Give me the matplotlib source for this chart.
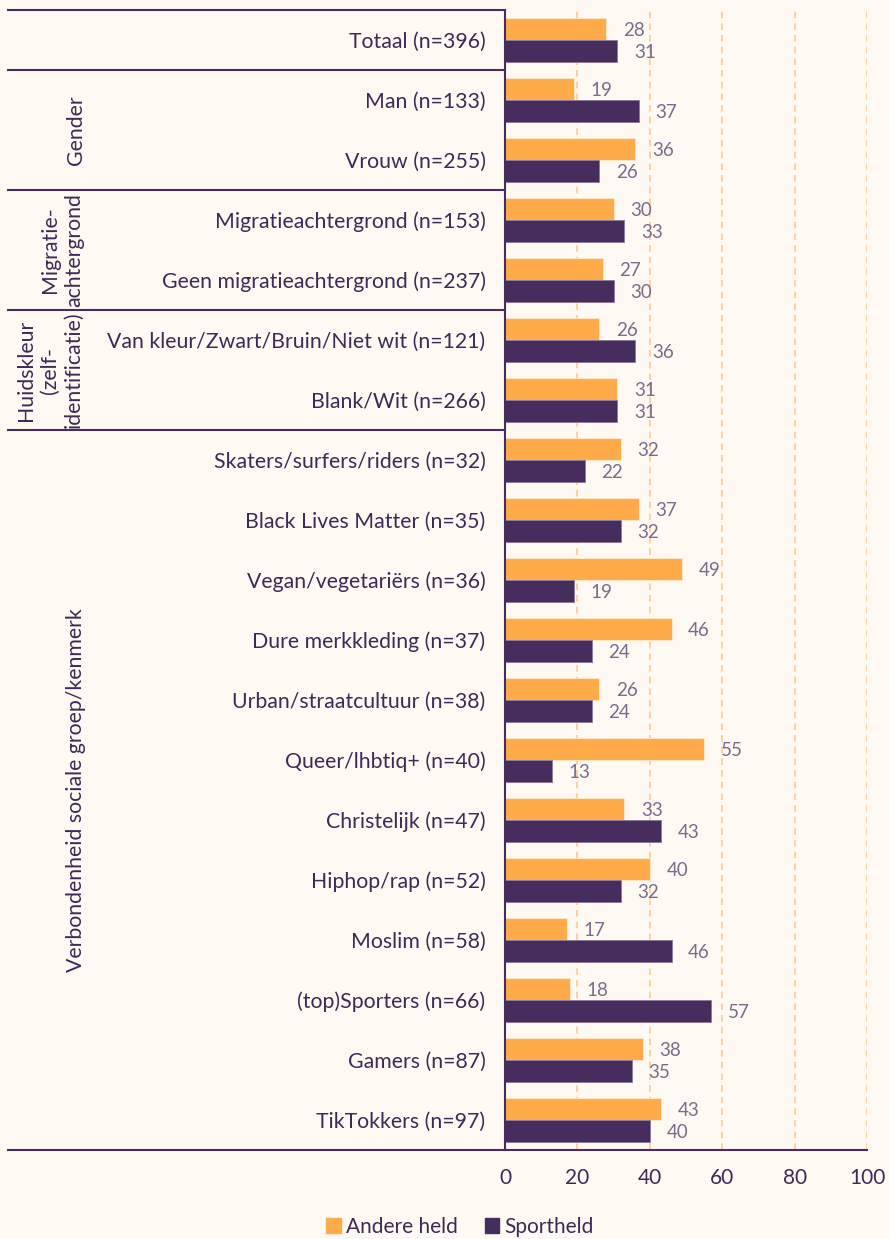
import numpy as np
import matplotlib
matplotlib.use("Agg")
import matplotlib.pyplot as plt
from matplotlib.transforms import blended_transform_factory
from matplotlib.lines import Line2D
from matplotlib.patches import Patch

plt.rcParams["font.family"] = ["Lato", "DejaVu Sans"]

categories = [
    "Totaal (n=396)",
    "Man (n=133)", "Vrouw (n=255)",
    "Migratieachtergrond (n=153)", "Geen migratieachtergrond (n=237)",
    "Van kleur/Zwart/Bruin/Niet wit (n=121)", "Blank/Wit (n=266)",
    "Skaters/surfers/riders (n=32)", "Black Lives Matter (n=35)",
    "Vegan/vegetariërs (n=36)", "Dure merkkleding (n=37)",
    "Urban/straatcultuur (n=38)", "Queer/lhbtiq+ (n=40)",
    "Christelijk (n=47)", "Hiphop/rap (n=52)", "Moslim (n=58)",
    "(top)Sporters (n=66)", "Gamers (n=87)", "TikTokkers (n=97)",
]
andere_held = [28, 19, 36, 30, 27, 26, 31, 32, 37, 49, 46, 26, 55, 33, 40, 17, 18, 38, 43]
sportheld = [31, 37, 26, 33, 30, 36, 31, 22, 32, 19, 24, 24, 13, 43, 32, 46, 57, 35, 40]

groups = ["Gender", "Migratie-\nachtergrond", "Huidskleur\n(zelf-\nidentificatie)",
          "Verbondenheid sociale groep/kenmerk"]
group_rows = [(1, 2), (3, 4), (5, 6), (7, 18)]

BG = "#FFF9F3"
ORANGE = "#FFAB4A"
PURPLE = "#472C5E"
TXT = "#3D2B56"
VAL = "#7B6C8C"

W, H = 889, 1239
fig = plt.figure(figsize=(W / 100, H / 100), dpi=100, facecolor=BG)
ax = fig.add_axes([505 / W, (H - 1150) / H, (867 - 505) / W, (1150 - 10) / H])
ax.set_facecolor(BG)

y = np.arange(len(categories))
bh = 0.37
ax.barh(y - bh / 2, andere_held, height=bh, color=ORANGE, edgecolor="#FFE9CF", linewidth=0.6, zorder=2)
ax.barh(y + bh / 2, sportheld, height=bh, color=PURPLE, edgecolor="#8A7A9C", linewidth=0.6, zorder=2)

for i in range(len(categories)):
    ax.annotate(str(andere_held[i]), (andere_held[i], y[i] - bh / 2), xytext=(12, -1),
                textcoords="offset points", va="center", ha="left", fontsize=13.5, color=VAL, zorder=4)
    ax.annotate(str(sportheld[i]), (sportheld[i], y[i] + bh / 2), xytext=(12, -1),
                textcoords="offset points", va="center", ha="left", fontsize=13.5, color=VAL, zorder=4)

ax.set_xlim(0, 100)
ax.set_ylim(len(categories) - 0.5, -0.5)
ax.set_xticks([0, 20, 40, 60, 80, 100])
ax.set_yticks(y)
ax.set_yticklabels(categories)
ax.tick_params(axis="y", length=0, pad=14, labelsize=15.3, labelcolor=TXT)
ax.tick_params(axis="x", length=0, pad=13, labelsize=15, labelcolor=TXT)
for x in [20, 40, 60, 80, 100]:
    ax.axvline(x, color="#FFC98F", lw=1.2, ls=(0, (4, 3)), zorder=1)
for s in ["top", "right", "bottom"]:
    ax.spines[s].set_visible(False)
ax.spines["left"].set_color(PURPLE)
ax.spines["left"].set_linewidth(1.5)

# table-like separators on the left
tr = blended_transform_factory(fig.transFigure, ax.transData)
for yy in [-0.5, 0.5, 2.5, 4.5, 6.5]:
    fig.add_artist(Line2D([8 / W, 505 / W], [yy, yy], transform=tr, color=PURPLE, lw=1.5))
fig.add_artist(Line2D([8 / W, 867 / W], [18.5, 18.5], transform=tr, color=PURPLE, lw=1.5))

group_x = [76, 62, 50, 76]
for g, (a, b), gx in zip(groups, group_rows, group_x):
    fig.text(gx / W, (a + b) / 2, g, transform=tr, rotation=90, ha="center", va="center",
             fontsize=15.3, color=TXT, linespacing=1.25, multialignment="center")

handles = [Patch(color=ORANGE, label="Andere held"), Patch(color=PURPLE, label="Sportheld")]
fig.legend(handles=handles, loc="center", bbox_to_anchor=(460 / W, 1 - 1227 / H), ncol=2,
           frameon=False, fontsize=15, handlelength=0.7, handleheight=0.7, handletextpad=0.25,
           columnspacing=1.3, labelcolor=TXT)

fig.savefig("out.png", dpi=100, facecolor=BG)
